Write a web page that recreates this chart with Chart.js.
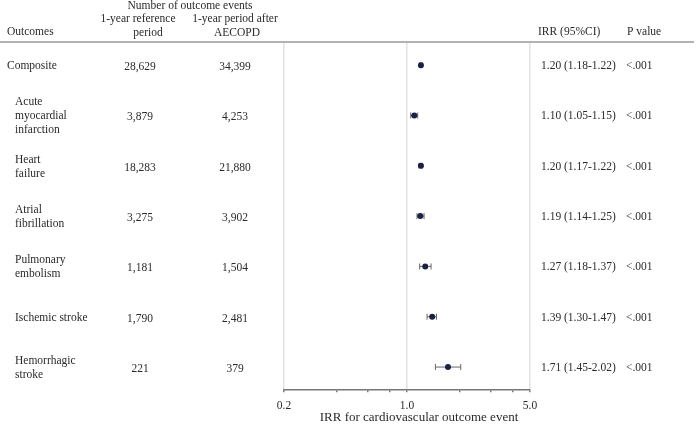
<!DOCTYPE html>
<html>
<head>
<meta charset="utf-8">
<script src="https://cdn.jsdelivr.net/npm/chart.js@4"></script>
<style>
  html, body { margin: 0; padding: 0; background: #fff; }
  #wrap { width: 697px; height: 424px; position: relative; }
</style>
</head>
<body>
<div id="wrap"><canvas id="forest"></canvas></div>
<script>
// data
const outcomes = [
  ['Composite'],
  ['Acute', 'myocardial', 'infarction'],
  ['Heart', 'failure'],
  ['Atrial', 'fibrillation'],
  ['Pulmonary', 'embolism'],
  ['Ischemic stroke'],
  ['Hemorrhagic', 'stroke']
];
const refEvents = ['28,629', '3,879', '18,283', '3,275', '1,181', '1,790', '221'];
const afterEvents = ['34,399', '4,253', '21,880', '3,902', '1,504', '2,481', '379'];
const irr = [1.20, 1.10, 1.20, 1.19, 1.27, 1.39, 1.71];
const ciLow = [1.18, 1.05, 1.17, 1.14, 1.18, 1.30, 1.45];
const ciHigh = [1.22, 1.15, 1.22, 1.25, 1.37, 1.47, 2.02];
const pValues = ['<.001', '<.001', '<.001', '<.001', '<.001', '<.001', '<.001'];
const xTicks = [0.2, 0.4, 0.6, 0.8, 1, 2, 3, 4, 5];
const xLabeled = [0.2, 1, 5];
const xTitle = 'IRR for cardiovascular outcome event';

const FONT = '"Liberation Serif", "Times New Roman", serif';
const TXT = '#2a2a2a';

const points = irr.map((v, i) => ({ x: v, y: i }));

// error bars under the points
const errorBars = {
  id: 'errorBars',
  beforeDatasetsDraw(chart) {
    const { ctx, scales: { x, y } } = chart;
    ctx.save();
    ctx.strokeStyle = '#666';
    ctx.lineWidth = 1;
    irr.forEach((v, i) => {
      const py = y.getPixelForValue(i);
      const x1 = x.getPixelForValue(ciLow[i]);
      const x2 = x.getPixelForValue(ciHigh[i]);
      ctx.beginPath();
      ctx.moveTo(x1, py); ctx.lineTo(x2, py);
      ctx.moveTo(x1, py - 3); ctx.lineTo(x1, py + 3);
      ctx.moveTo(x2, py - 3); ctx.lineTo(x2, py + 3);
      ctx.stroke();
    });
    ctx.restore();
  }
};

// the table around the plot
const tableText = {
  id: 'tableText',
  afterDraw(chart) {
    const { ctx, scales: { y } } = chart;
    ctx.save();
    ctx.font = '11.5px ' + FONT;
    ctx.fillStyle = TXT;
    ctx.textBaseline = 'middle';

    // header
    ctx.textAlign = 'left';
    ctx.fillText('Outcomes', 7, 32);
    ctx.fillText('IRR (95%CI)', 538, 32);
    ctx.fillText('P value', 627, 32);
    ctx.textAlign = 'center';
    ctx.fillText('Number of outcome events', 190, 6);
    ctx.fillText('1-year reference', 138, 19);
    ctx.fillText('period', 148, 33);
    ctx.fillText('1-year period after', 235, 19);
    ctx.fillText('AECOPD', 237, 33);

    ctx.strokeStyle = '#9a9a9a';
    ctx.lineWidth = 1.5;
    ctx.beginPath();
    ctx.moveTo(0, 42); ctx.lineTo(694, 42);
    ctx.stroke();

    // rows
    const lh = 14;
    outcomes.forEach((lines, i) => {
      const py = y.getPixelForValue(i) + 1;
      const lx = i === 0 ? 7 : 15;
      ctx.textAlign = 'left';
      const y0 = py - (lines.length - 1) * lh / 2;
      lines.forEach((t, k) => ctx.fillText(t, lx, y0 + k * lh));
      ctx.textAlign = 'center';
      ctx.fillText(refEvents[i], 140, py + 1);
      ctx.fillText(afterEvents[i], 235, py + 1);
      ctx.textAlign = 'left';
      const s = irr[i].toFixed(2) + ' (' + ciLow[i].toFixed(2) + '-' + ciHigh[i].toFixed(2) + ')';
      ctx.fillText(s, 541, py);
      ctx.fillText(pValues[i], 626, py);
    });

    // axis title
    ctx.font = '13px ' + FONT;
    ctx.textAlign = 'center';
    ctx.fillText(xTitle, 419, 418);
    ctx.restore();
  }
};

new Chart(document.getElementById('forest'), {
  type: 'scatter',
  data: {
    datasets: [{
      data: points,
      pointRadius: 3,
      pointHoverRadius: 3,
      pointBackgroundColor: '#1b2142',
      pointBorderColor: '#1b2142',
      pointBorderWidth: 0
    }]
  },
  options: {
    responsive: true,
    maintainAspectRatio: false,
    animation: false,
    events: [],
    layout: { padding: { left: 284, right: 167, top: 43, bottom: 4 } },
    plugins: { legend: { display: false }, tooltip: { enabled: false } },
    scales: {
      x: {
        type: 'logarithmic',
        min: 0.2,
        max: 5,
        afterBuildTicks(axis) {
          axis.ticks = xTicks.map(v => ({ value: v }));
        },
        ticks: {
          autoSkip: false,
          maxRotation: 0,
          padding: 7,
          color: TXT,
          font: { family: FONT, size: 11.5 },
          callback: v => xLabeled.includes(v) ? v.toFixed(1) : ''
        },
        grid: {
          color: c => (c.tick && xLabeled.includes(c.tick.value)) ? '#e2e2e2' : 'rgba(0,0,0,0)',
          lineWidth: 1.5,
          tickColor: '#777',
          tickLength: 2
        },
        border: { color: '#777', width: 1.5 }
      },
      y: {
        type: 'linear',
        reverse: true,
        min: -0.44,
        max: 6.46,
        display: false
      }
    }
  },
  plugins: [errorBars, tableText]
});
</script>
</body>
</html>
